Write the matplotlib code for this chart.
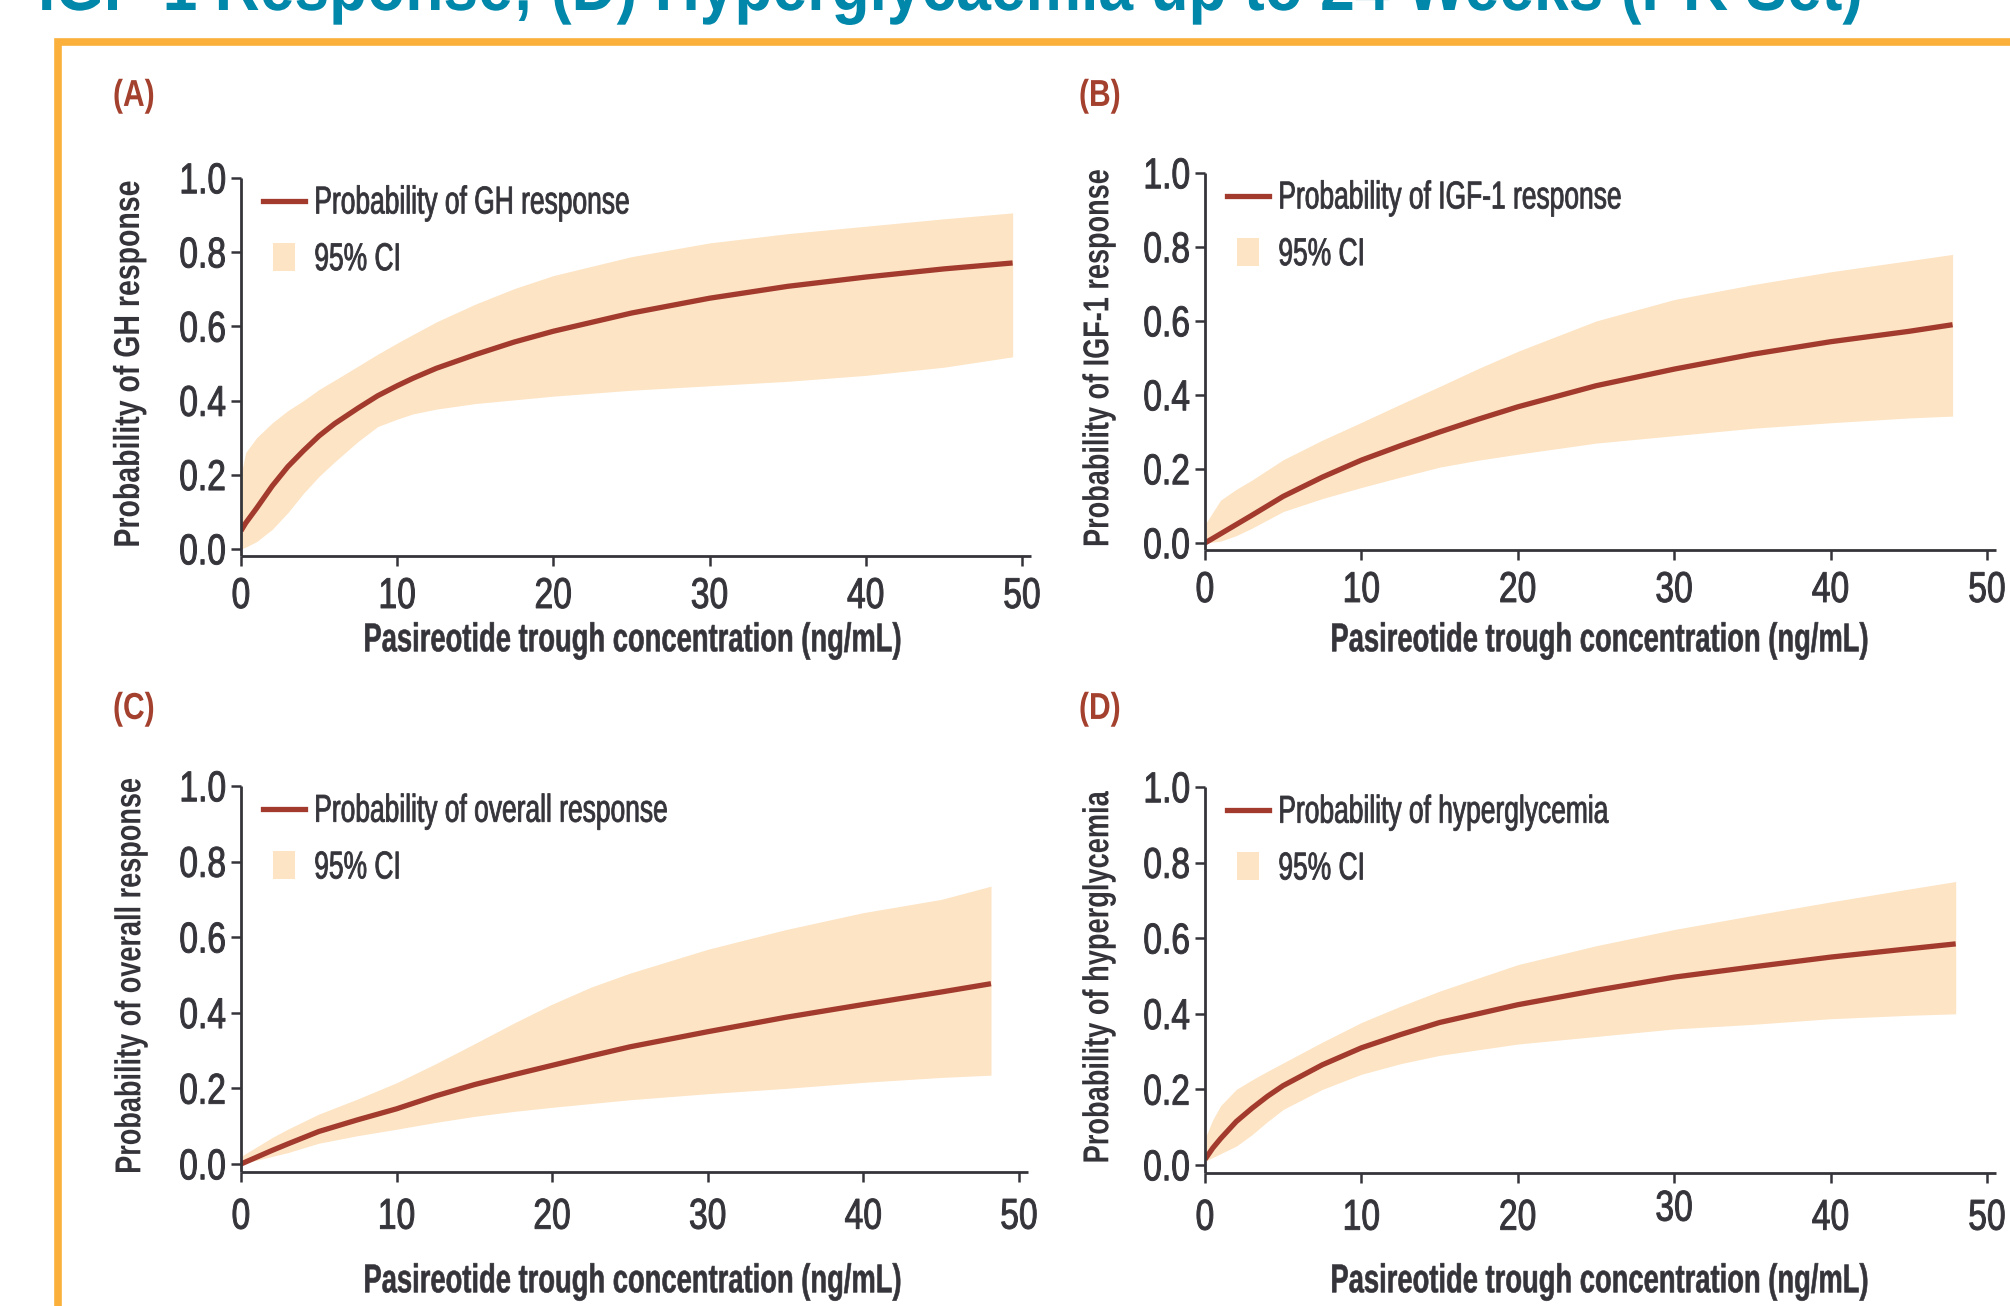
#!/usr/bin/env python3
# Exposure-response panels (A)-(D): probability vs pasireotide trough
# concentration, with 95% CI bands.

import matplotlib
matplotlib.use('Agg')
import matplotlib.pyplot as plt
import matplotlib.patheffects as pe
from matplotlib.lines import Line2D
from matplotlib.transforms import Affine2D

# ---------------------------------------------------------------------------
# Values
# ---------------------------------------------------------------------------
# (A) GH response
gh_conc = [0, 0.3, 1, 2, 3, 4, 5, 6, 7.5, 8.75, 10, 11, 12.5, 15, 17.5, 20,
           25, 30, 35, 40, 45, 49.4]
gh_prob = [0.049, 0.07, 0.11, 0.17, 0.222, 0.265, 0.305, 0.338, 0.38, 0.413,
           0.44, 0.46, 0.487, 0.524, 0.558, 0.587, 0.636, 0.676, 0.708, 0.733,
           0.755, 0.771]
gh_lo = [0.0, 0.005, 0.02, 0.053, 0.098, 0.15, 0.196, 0.235, 0.29, 0.33,
         0.35, 0.364, 0.377, 0.392, 0.402, 0.412, 0.428, 0.44, 0.452, 0.468,
         0.49, 0.518]
gh_hi = [0.20, 0.26, 0.30, 0.34, 0.373, 0.40, 0.43, 0.455, 0.493, 0.525,
         0.555, 0.578, 0.612, 0.66, 0.702, 0.737, 0.788, 0.825, 0.85, 0.87,
         0.89, 0.906]

# (B) IGF-1 response
igf_conc = [0, 1, 2, 3, 5, 7.5, 10, 12.5, 15, 17.5, 20, 25, 30, 35, 40, 45, 47.8]
igf_prob = [0.0, 0.025, 0.05, 0.075, 0.126, 0.178, 0.224, 0.263, 0.30, 0.335,
            0.368, 0.425, 0.47, 0.51, 0.544, 0.572, 0.59]
igf_lo = [0.0, 0.005, 0.02, 0.04, 0.085, 0.12, 0.15, 0.178, 0.205, 0.224,
          0.24, 0.27, 0.29, 0.31, 0.325, 0.338, 0.343]
igf_hi = [0.05, 0.116, 0.145, 0.17, 0.225, 0.278, 0.326, 0.375, 0.423, 0.472,
          0.518, 0.60, 0.658, 0.698, 0.733, 0.763, 0.78]

# (C) overall response
ovr_conc = [0, 1, 2, 3, 5, 7.5, 10, 12.5, 15, 17.5, 20, 22.5, 25, 30, 35, 40,
            45, 48.2]
ovr_prob = [0.0, 0.018, 0.036, 0.053, 0.086, 0.117, 0.146, 0.18, 0.21, 0.236,
            0.261, 0.286, 0.31, 0.35, 0.388, 0.422, 0.455, 0.477]
ovr_lo = [0.0, 0.01, 0.02, 0.03, 0.055, 0.075, 0.092, 0.11, 0.126, 0.139,
          0.15, 0.16, 0.17, 0.186, 0.20, 0.216, 0.229, 0.235]
ovr_hi = [0.02, 0.045, 0.07, 0.092, 0.132, 0.172, 0.215, 0.265, 0.318, 0.372,
          0.423, 0.468, 0.505, 0.568, 0.62, 0.665, 0.70, 0.735]

# (D) hyperglycemia
hyp_conc = [0, 0.5, 1, 2, 3, 4, 5, 7.5, 10, 12.5, 15, 20, 25, 30, 35, 40, 45, 48]
hyp_prob = [0.015, 0.045, 0.07, 0.115, 0.15, 0.182, 0.21, 0.265, 0.31, 0.345,
            0.377, 0.424, 0.462, 0.497, 0.524, 0.55, 0.572, 0.585]
hyp_lo = [0.01, 0.02, 0.03, 0.05, 0.08, 0.115, 0.147, 0.2, 0.24, 0.268, 0.29,
          0.32, 0.34, 0.36, 0.372, 0.387, 0.396, 0.40]
hyp_hi = [0.07, 0.12, 0.157, 0.2, 0.225, 0.248, 0.27, 0.325, 0.377, 0.42,
          0.46, 0.53, 0.58, 0.623, 0.66, 0.696, 0.73, 0.75]

panel_tags = ['(A)', '(B)', '(C)', '(D)']
curve_names = ['Probability of GH response', 'Probability of IGF-1 response',
               'Probability of overall response', 'Probability of hyperglycemia']
y_titles = ['Probability of GH response', 'Probability of IGF-1 response',
            'Probability of overall response', 'Probability of hyperglycemia']
x_title = 'Pasireotide trough concentration (ng/mL)'
ci_name = '95% CI'
x_ticks = [0, 10, 20, 30, 40, 50]
y_ticks = [0.0, 0.2, 0.4, 0.6, 0.8, 1.0]
y_ticklabels = ['0.0', '0.2', '0.4', '0.6', '0.8', '1.0']
title = 'IGF-1 Response; (D) Hyperglycaemia up to 24 Weeks (PK Set)'

# ---------------------------------------------------------------------------
# Styling
# ---------------------------------------------------------------------------
W, H = 2010, 1306
SANS = ['Liberation Sans', 'DejaVu Sans']
INK = '#34343a'
LINE = '#a23a2e'
BAND = '#fde4c4'
TAG = '#a4402e'
FRAME = '#fbb03b'
TEAL = '#0087a9'


class Tall(pe.AbstractPathEffect):
    """Stretch a text upward so that it looks like condensed poster type.

    The layout keeps the true width; the glyphs are only made taller, about
    their own middle (or about the baseline).  A thin outline in the text
    colour can thicken the strokes a little.
    """

    def __init__(self, factor, anchor='middle', stroke=0.0):
        super().__init__()
        self.factor = factor
        self.anchor = anchor
        self.stroke = stroke

    def draw_path(self, renderer, gc, tpath, affine, rgbFace=None):
        ext = tpath.get_extents()
        y0 = 0.5 * (ext.y0 + ext.y1) if self.anchor == 'middle' else 0.0
        tall = Affine2D().translate(0, -y0).scale(1, self.factor).translate(0, y0)
        if self.stroke > 0 and rgbFace is not None:
            gc0 = renderer.new_gc()
            gc0.copy_properties(gc)
            gc0.set_linewidth(self.stroke)
            gc0.set_foreground(rgbFace)
            renderer.draw_path(gc0, tpath, tall + affine, rgbFace)
            gc0.restore()
        else:
            renderer.draw_path(gc, tpath, tall + affine, rgbFace)


def fx(px):
    return px / W


def fy(py):
    return 1 - py / H


fig = plt.figure(figsize=(W / 100, H / 100), dpi=100)

# Orange frame, open to the right and bottom (cropped poster box)
fig.add_artist(Line2D([fx(W + 20), fx(58), fx(58)], [fy(42), fy(42), fy(H + 20)],
                      color=FRAME, lw=5.5, solid_joinstyle='miter'))

# Poster heading, cut off at the top edge as in the original crop
fig.text(fx(38), fy(10), title, color=TEAL, fontsize=44.9, weight='bold',
         family=SANS, ha='left', va='baseline',
         path_effects=[Tall(1.135, 'baseline')])

# pixel geometry of each panel: x at 0, x at 50, y at 1.0, y at 0.0
boxes = [(241, 1022, 178, 549), (1205, 1987, 173, 543),
         (241, 1019, 786, 1164), (1205, 1987, 787, 1165)]
tag_pos = [(113, 96), (1079, 96), (113, 709), (1079, 709)]
ylab_pos = [(130, 364), (1099, 358), (131, 976), (1099, 977)]
ylab_size = [20.5, 19.5, 19.5, 19.6]
xlab_pos = [(633, 641), (1600, 641), (633, 1282), (1600, 1282)]
xtick_pad = [10.5, 10.5, 14.5, 14.5]

XMAX, YMIN = 50.6, -0.02

series = [(gh_conc, gh_prob, gh_lo, gh_hi), (igf_conc, igf_prob, igf_lo, igf_hi),
          (ovr_conc, ovr_prob, ovr_lo, ovr_hi), (hyp_conc, hyp_prob, hyp_lo, hyp_hi)]

for i, (conc, prob, lo, hi) in enumerate(series):
    x0, x50, y1, y0 = boxes[i]
    right = x0 + (x50 - x0) * XMAX / 50
    bottom = y0 + (y0 - y1) * (-YMIN)
    ax = fig.add_axes([fx(x0), fy(bottom), (right - x0) / W, (bottom - y1) / H])

    ax.fill_between(conc, lo, hi, color=BAND, lw=0, zorder=1)
    ax.plot(conc, prob, color=LINE, lw=3.8, solid_capstyle='butt',
            solid_joinstyle='round', zorder=2)

    ax.set_xlim(0, XMAX)
    ax.set_ylim(YMIN, 1.0)
    for side in ('top', 'right'):
        ax.spines[side].set_visible(False)
    for side in ('left', 'bottom'):
        ax.spines[side].set_color(INK)
        ax.spines[side].set_linewidth(2.0)
        ax.spines[side].set_capstyle('butt')
    ax.set_xticks(x_ticks)
    ax.set_xticklabels([str(t) for t in x_ticks])
    ax.set_yticks(y_ticks)
    ax.set_yticklabels(y_ticklabels)
    ax.tick_params(axis='both', direction='out', length=7, width=1.8, color=INK,
                   labelcolor=INK, labelsize=24.2)
    ax.tick_params(axis='x', pad=xtick_pad[i])
    ax.tick_params(axis='y', pad=3.5)
    for lab in ax.get_xticklabels() + ax.get_yticklabels():
        lab.set_family(SANS)
        lab.set_path_effects([Tall(1.28, stroke=0.7)])

    # the "30" under panel (D) sits a little higher in the original
    if i == 3:
        ax.xaxis.get_major_ticks()[3].set_pad(xtick_pad[i] - 6.5)

    # y label (bold, condensed) and x label (bold, strongly condensed)
    ax.set_ylabel(y_titles[i], family=SANS, weight='bold', fontsize=ylab_size[i],
                  color=INK, va='center')
    ax.yaxis.set_label_coords(fx(ylab_pos[i][0]), fy(ylab_pos[i][1]),
                              transform=fig.transFigure)
    ax.yaxis.label.set_path_effects([Tall(26 / ylab_size[i])])

    ax.set_xlabel(x_title, family=SANS, weight='bold', fontsize=19.7,
                  color=INK, va='center')
    ax.xaxis.set_label_coords(fx(xlab_pos[i][0]), fy(xlab_pos[i][1]),
                              transform=fig.transFigure)
    ax.xaxis.label.set_path_effects([Tall(1.47, stroke=0.4)])

    # legend: line for the curve, a small upright block for the CI
    handles = [Line2D([], [], color=LINE, lw=3.8),
               Line2D([], [], linestyle='none', color=BAND, markeredgewidth=0,
                      markersize=20,
                      marker=[(-0.41, -0.5), (0.41, -0.5), (0.41, 0.5),
                              (-0.41, 0.5), (-0.41, -0.5)])]
    leg = ax.legend(handles, [curve_names[i], ci_name], loc='upper left',
                    bbox_to_anchor=(0.028, 0.965), frameon=False, borderpad=0,
                    borderaxespad=0, handlelength=1.6, handletextpad=0.34,
                    labelspacing=1.2, prop={'family': SANS, 'size': 19})
    for t in leg.get_texts():
        t.set_color(INK)
        t.set_path_effects([Tall(1.47, stroke=0.6)])

    fig.text(fx(tag_pos[i][0]), fy(tag_pos[i][1]), panel_tags[i], color=TAG,
             fontsize=21.6, weight='bold', family=SANS, ha='left', va='center',
             path_effects=[Tall(1.25)])

fig.savefig('out.png', dpi=100)
